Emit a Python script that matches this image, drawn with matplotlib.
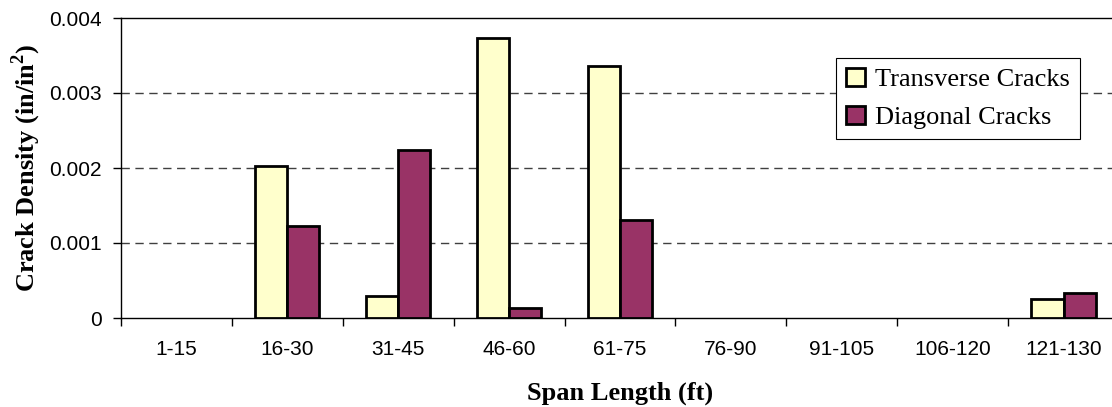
import matplotlib
matplotlib.use("Agg")
import matplotlib.pyplot as plt
import numpy as np

plt.rcParams["mathtext.fontset"] = "custom"
plt.rcParams["mathtext.rm"] = "Liberation Serif"
plt.rcParams["mathtext.bf"] = "Liberation Serif:bold"

# span ranges and crack densities
categories = ["1-15", "16-30", "31-45", "46-60", "61-75", "76-90", "91-105", "106-120", "121-130"]
transverse = [0, 0.00203, 0.00030, 0.003737, 0.003356, 0, 0, 0, 0.00025]
diagonal = [0, 0.00123, 0.002236, 0.00014, 0.00131, 0, 0, 0, 0.00034]

fig = plt.figure(figsize=(11.12, 4.07), dpi=100)
ax = fig.add_axes([121 / 1112, 89 / 407, 998 / 1112, 300 / 407])

x = np.arange(len(categories))
w = 0.29
t = np.array(transverse)
d = np.array(diagonal)
# empty bins have no bar at all
ax.bar(x[t > 0] - w / 2, t[t > 0], w, color="#FFFFCC", edgecolor="black", linewidth=2,
       label="Transverse Cracks", zorder=3)
ax.bar(x[d > 0] + w / 2, d[d > 0], w, color="#993366", edgecolor="black", linewidth=2,
       label="Diagonal Cracks", zorder=3)

ax.set_xlim(-0.5, len(categories) - 0.5)
ax.set_ylim(0, 0.004)
ax.set_yticks([0, 0.001, 0.002, 0.003, 0.004])
ax.set_yticklabels(["0", "0.001", "0.002", "0.003", "0.004"], fontname="Liberation Sans", fontsize=15)
ax.set_xticks(x)
ax.set_xticklabels(categories, fontname="Liberation Sans", fontsize=15)
ax.set_xticks(np.arange(-0.5, len(categories)), minor=True)
ax.tick_params(axis="x", which="major", length=0, pad=16)
ax.tick_params(axis="x", which="minor", length=6, width=1, direction="out")
ax.tick_params(axis="y", length=6, width=1, direction="out", pad=8)

for y in [0.001, 0.002, 0.003]:
    ax.axhline(y, color="#404040", linewidth=1, linestyle=(0, (6, 4)), zorder=1)

for s in ax.spines.values():
    s.set_linewidth(1)
    s.set_color("black")

ax.set_xlabel("Span Length (ft)", fontname="Liberation Serif", fontweight="bold", fontsize=19, labelpad=16)
ax.set_ylabel("Crack Density (in/in$^\\mathbf{2}$)", fontname="Liberation Serif", fontweight="bold",
              fontsize=19, labelpad=4)

leg = ax.legend(loc="upper right", bbox_to_anchor=(0.961, 0.867), borderaxespad=0,
                prop={"family": "Liberation Serif", "size": 19}, frameon=True, fancybox=False,
                edgecolor="black", framealpha=1, handlelength=0.7, handleheight=0.7,
                handletextpad=0.4, labelspacing=0.55, borderpad=0.38)
leg.get_frame().set_linewidth(0.8)

fig.savefig("out.png", dpi=100)
